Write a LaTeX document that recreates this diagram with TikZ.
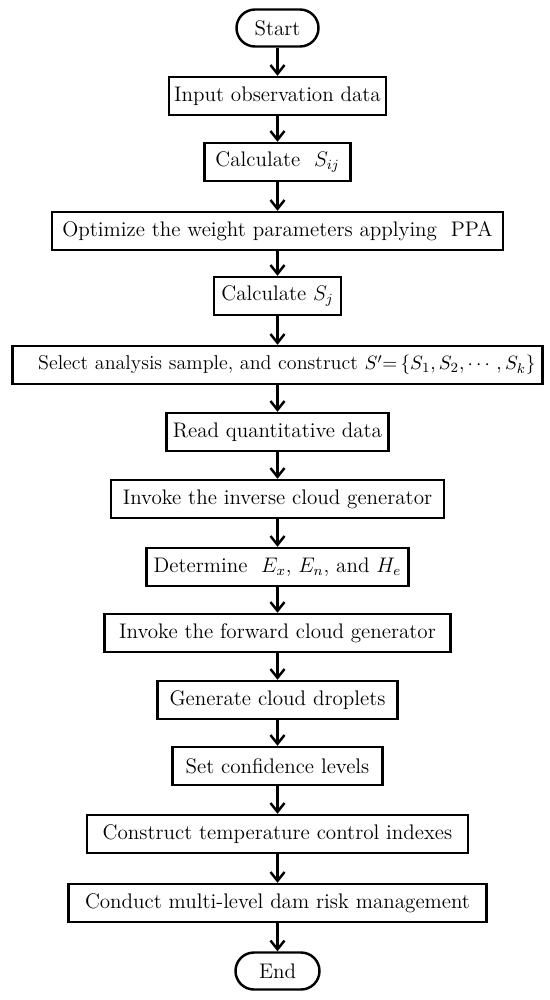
\documentclass[tikz,border=0pt]{standalone}
\usepackage{amsmath}
\usetikzlibrary{arrows.meta, positioning}

\begin{document}
\begin{tikzpicture}[
  box/.style={draw, line width=1.4pt, minimum height=0.76cm, inner xsep=1.5pt,
              font=\fontsize{12}{14}\selectfont},
  term/.style={draw, line width=1.4pt, rounded corners=0.37cm,
               minimum height=0.74cm, font=\fontsize{12}{14}\selectfont},
  arr/.style={-{Straight Barb[length=5pt,width=8pt]}, line width=1.4pt}
]
\useasboundingbox (0,0) rectangle (11,-20);

\node[term, minimum width=1.64cm] (start) at (5.55,-0.56) {Start};
\node[box, minimum width=4.34cm] (input) at (5.55,-1.92) {Input observation data};
\node[box, minimum width=2.92cm] (sij) at (5.55,-3.24) {Calculate \ $S_{ij}$};
\node[box, minimum width=9.02cm] (ppa) at (5.55,-4.62) {Optimize the weight parameters applying \ PPA};
\node[box, minimum width=2.54cm] (sj) at (5.55,-5.92) {Calculate $S_j$};
\node[box, text width=10.32cm, inner xsep=0.14cm, align=right,
      font=\fontsize{11.4}{14}\selectfont] (sel) at (5.55,-7.30)
  {Select analysis sample, and construct $S'{=}\left\{S_1,S_2,\cdots,S_k\right\}$};
\node[box, minimum width=4.44cm] (read) at (5.55,-8.64) {Read quantitative data};
\node[box, minimum width=6.66cm] (inv) at (5.55,-9.98) {Invoke the inverse cloud generator};
\node[box, minimum width=5.24cm] (det) at (5.55,-11.34) {Determine \ $E_x$, $E_n$, and $H_e$};
\node[box, minimum width=6.92cm] (fwd) at (5.55,-12.66) {Invoke the forward cloud generator};
\node[box, minimum width=4.80cm] (drop) at (5.55,-14.00) {Generate cloud droplets};
\node[box, minimum width=4.20cm] (conf) at (5.55,-15.32) {Set confidence levels};
\node[box, minimum width=7.62cm] (temp) at (5.55,-16.68) {Construct temperature control indexes};
\node[box, minimum width=8.36cm] (risk) at (5.55,-18.06) {Conduct multi-level dam risk management};
\node[term, minimum width=1.68cm] (end) at (5.55,-19.42) {End};

% flow
\draw[arr] (start) -- (input);
\draw[arr] (input) -- (sij);
\draw[arr] (sij) -- (ppa);
\draw[arr] (ppa) -- (sj);
\draw[arr] (sj) -- (sel);
\draw[arr] (sel) -- (read);
\draw[arr] (read) -- (inv);
\draw[arr] (inv) -- (det);
\draw[arr] (det) -- (fwd);
\draw[arr] (fwd) -- (drop);
\draw[arr] (drop) -- (conf);
\draw[arr] (conf) -- (temp);
\draw[arr] (temp) -- (risk);
\draw[arr] (risk) -- (end);
\end{tikzpicture}
\end{document}
